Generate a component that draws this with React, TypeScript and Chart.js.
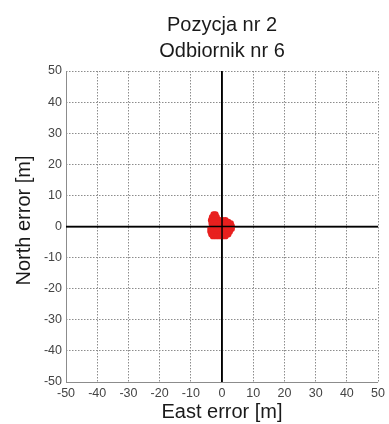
import { useEffect, useRef } from 'react';
import { Chart, registerables } from 'chart.js';

Chart.register(...registerables);

const titleLines = ['Pozycja nr 2', 'Odbiornik nr 6'];
const xAxisTitle = 'East error [m]';
const yAxisTitle = 'North error [m]';
const axisMin = -50;
const axisMax = 50;
const axisStep = 10;

// Position error samples [m]
const eastError = [
  -2.7, -2.1,
  -3.2, -2.4, -1.7,
  -3.5, -2.6, -1.7, -0.8, 0.2, 1.1,
  2.0,
  -3.3, -2.4, -1.5, -0.6, 0.3, 1.2, 2.1, 2.8,
  -3.2, -2.3, -1.4, -0.5, 0.4, 1.3, 2.2, 3.1,
  -3.7, -2.8, -1.9, -1.0, -0.1, 0.8, 1.7, 2.6, 3.1,
  -3.7, -2.8, -1.9, -1.0, -0.1, 0.8, 1.7, 2.5,
  -3.4, -2.5, -1.6, -0.7, 0.2, 1.1, 2.0,
  -2.9, -1.9, -0.9, 0.1, 1.1,
];
const northError = [
  3.9, 3.9,
  3.0, 3.0, 3.0,
  2.0, 2.0, 2.0, 2.0, 2.0, 2.0,
  1.5,
  1.0, 1.0, 1.0, 1.0, 1.0, 1.0, 1.0, 1.0,
  0.2, 0.2, 0.2, 0.2, 0.2, 0.2, 0.2, 0.2,
  -0.7, -0.7, -0.7, -0.7, -0.7, -0.7, -0.7, -0.7, -0.7,
  -1.6, -1.6, -1.6, -1.6, -1.6, -1.6, -1.6, -1.6,
  -2.5, -2.5, -2.5, -2.5, -2.5, -2.5, -2.5,
  -3.1, -3.1, -3.1, -3.1, -3.1,
];

const FONT = '"Liberation Sans", Arial, sans-serif';

const figureText = {
  id: 'figureText',
  afterDraw(chart: any) {
    const { ctx, chartArea } = chart;
    const cx = (chartArea.left + chartArea.right) / 2;
    const cy = (chartArea.top + chartArea.bottom) / 2;
    ctx.save();
    ctx.fillStyle = '#1a1a1a';
    ctx.font = `20px ${FONT}`;
    ctx.textAlign = 'center';
    ctx.textBaseline = 'alphabetic';
    ctx.fillText(titleLines[0], cx, 31);
    ctx.fillText(titleLines[1], cx, 57);
    ctx.fillText(xAxisTitle, cx, 418);
    ctx.translate(30, cy - 6);
    ctx.rotate(-Math.PI / 2);
    ctx.fillText(yAxisTitle, 0, 0);
    ctx.restore();
  },
};

const gridFor = () => ({
  color: (c: any) => (c.tick && c.tick.value === 0 ? '#000000' : '#8c8c8c'),
  lineWidth: (c: any) => (c.tick && c.tick.value === 0 ? 1.5 : 1),
  drawTicks: false,
});

const borderFor = () => ({
  display: false,
  dash: (c: any) =>
    c.tick && (c.tick.value === 0 || c.tick.value === axisMin) ? [] : [1.5, 1.5],
});

const ticksFor = (padding: number) => ({
  stepSize: axisStep,
  padding,
  color: '#444444',
  font: { family: FONT, size: 12.5 },
  callback: (v: any) => String(v),
});

export default function App() {
  const ref = useRef<HTMLCanvasElement | null>(null);

  useEffect(() => {
    if (!ref.current) return;
    const points = eastError.map((x, i) => ({ x, y: northError[i] }));
    const chart = new Chart(ref.current, {
      type: 'scatter',
      data: {
        datasets: [
          {
            type: 'line',
            data: [{ x: axisMin, y: 0 }, { x: axisMax, y: 0 }],
            borderColor: '#000000',
            borderWidth: 1.5,
            pointRadius: 0,
            order: 0,
          } as any,
          {
            type: 'line',
            data: [{ x: 0, y: axisMin }, { x: 0, y: axisMax }],
            borderColor: '#000000',
            borderWidth: 1.5,
            pointRadius: 0,
            order: 0,
          } as any,
          {
            data: points,
            backgroundColor: '#e8201f',
            borderColor: '#e8201f',
            borderWidth: 0,
            pointRadius: 3.2,
            order: 1,
          },
        ],
      },
      options: {
        responsive: false,
        animation: false,
        devicePixelRatio: 1,
        layout: { padding: { top: 71, right: 9, bottom: 0, left: 0 } },
        plugins: { legend: { display: false }, tooltip: { enabled: false }, title: { display: false } },
        scales: {
          x: {
            type: 'linear',
            min: axisMin,
            max: axisMax,
            grid: gridFor(),
            border: borderFor(),
            ticks: ticksFor(4),
            afterFit: (s: any) => {
              s.height = 42;
            },
          },
          y: {
            type: 'linear',
            min: axisMin,
            max: axisMax,
            grid: gridFor(),
            border: borderFor(),
            ticks: ticksFor(4),
            afterFit: (s: any) => {
              s.width = 66;
            },
          },
        },
      },
      plugins: [figureText],
    });
    return () => chart.destroy();
  }, []);

  return (
    <div style={{ position: 'fixed', left: 0, top: 0, width: 389, height: 424, background: '#ffffff' }}>
      <canvas ref={ref} width={389} height={424} />
    </div>
  );
}
